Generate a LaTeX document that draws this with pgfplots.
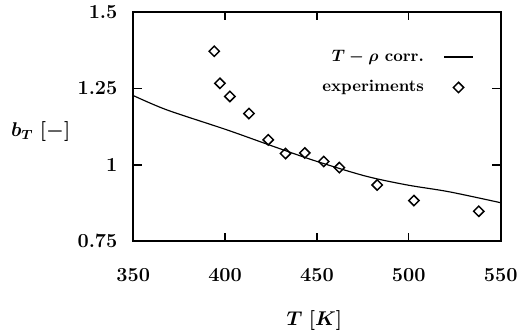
\documentclass[border=0pt]{standalone}
\usepackage{pgfplots}
\pgfplotsset{compat=1.18}
\begin{document}
\mathversion{bold}
\begin{tikzpicture}
\begin{axis}[
  at={(0,0)}, anchor=south west,
  scale only axis, width=221.4pt, height=138pt,
  xmin=350, xmax=550, ymin=0.75, ymax=1.5,
  xtick={350,400,450,500,550},
  ytick={0.75,1,1.25,1.5},
  yticklabels={0.75,1,1.25,1.5},
  xticklabels={350,400,450,500,550},
  tick align=inside, major tick length=5pt,
  axis line style={line width=1.2pt},
  every tick/.append style={line width=0.8pt, black},
  ticklabel style={font=\bfseries\large},
  xticklabel style={yshift=-13pt},
  yticklabel style={xshift=-6pt},
  xlabel={$T$ $[K]$},
  ylabel={$b_T$ $[-]$},
  xlabel style={at={(axis description cs:0.493,-0.345)}, anchor=center, font=\large},
  ylabel style={at={(axis description cs:-0.252,0.478)}, anchor=center, rotate=-90, font=\large},
  legend style={draw=none, fill=none, at={(axis description cs:0.94,0.865)}, anchor=north east,
    font=\bfseries, row sep=6pt, column sep=10pt},
  legend cell align=right,
  legend plot pos=right,
]
\addplot[black, line width=0.7pt, smooth] coordinates {
(350,1.227) (368.3,1.180) (400.8,1.115) (426,1.061) (449.6,1.012) (476.6,0.963) (499.2,0.934) (521.8,0.912) (550,0.876)
};
\addlegendentry{$T-\rho$ corr.}
\addplot[only marks, mark=square, mark size=2.2pt, mark options={rotate=45, line width=0.9pt, black}] coordinates {
(394.1,1.372) (397.2,1.267) (402.6,1.224) (413.0,1.168) (423.5,1.082) (432.9,1.037) (443.4,1.039) (453.7,1.011) (462.2,0.991) (482.8,0.934) (502.8,0.883) (538.1,0.848)
};
\addlegendentry{experiments}
\end{axis}
\end{tikzpicture}
\end{document}
